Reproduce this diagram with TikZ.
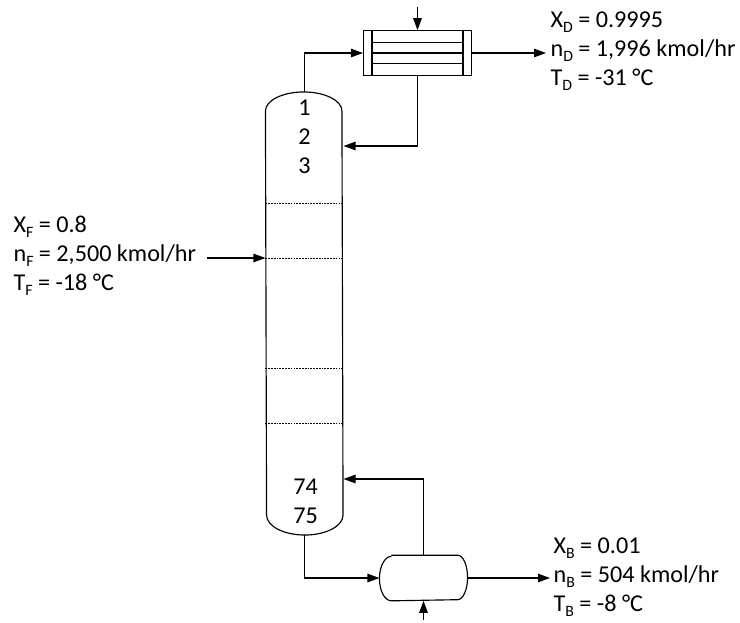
\documentclass[tikz,border=0pt]{standalone}
\usepackage{fontspec}
\setmainfont{Carlito}
\usetikzlibrary{
  positioning,
  calc,
  arrows.meta}
\newcommand{\strm}[1]{\raisebox{-2.8pt}{\fontsize{9pt}{9pt}\selectfont #1}}
\tikzset{
  %% vessel : outline-free box holding the anchors of a unit
  vessel/.style={
    rectangle,
    minimum width=1.53cm,
    minimum height=8.06cm,
    inner sep=0pt
  },
  %% exchanger : the condenser shell
  exchanger/.style={
    rectangle,
    draw=black,
    minimum width=2.16cm,
    minimum height=0.89cm,
    inner sep=0pt
  },
  %% drum : the reboiler body
  drum/.style={
    rectangle,
    minimum width=1.74cm,
    minimum height=0.89cm,
    inner sep=0pt
  },
  %% streamlabel : three line stream data
  streamlabel/.style={
    anchor=west,
    inner sep=0pt,
    align=left,
    font=\fontsize{13.75pt}{16.45pt}\selectfont
  },
  %% traynum : number of a tray
  traynum/.style={
    inner sep=0pt,
    font=\fontsize{13.75pt}{14pt}\selectfont
  },
  %% stream : connector with filled head
  stream/.style={-{Triangle[length=2.4mm,width=1.7mm]}},
  %% tray : section line in the column
  tray/.style={line width=0.35pt, dash pattern=on 1pt off 0.6pt}
}

\begin{document}
\begin{tikzpicture}
  [x=0.02cm,
  y=-0.02cm,
  line width=0.65pt]

  \useasboundingbox (0,0) rectangle (740,622);

  %% Units
  \node (column) [vessel] at (304.25,313) {};
  \node (condenser) [exchanger] at (417.5,53) {};
  \node (reboiler) [drum] at (423.5,578) {};

  %% Column outline
  \draw (column.north west) arc[start angle=180, end angle=360,
    x radius=38.25, y radius=19]
    -- (column.south east) arc[start angle=0, end angle=180,
    x radius=38.25, y radius=20] -- cycle;
  \coordinate (coltop) at ($(column.north)+(0,-19)$);
  \coordinate (colbottom) at ($(column.south)+(0,20)$);

  %% Condenser tubes
  \draw ($(condenser.north west)+(9,0)$) -- ($(condenser.south west)+(9,0)$);
  \draw ($(condenser.north east)+(-9,0)$) -- ($(condenser.south east)+(-9,0)$);
  \draw ($(condenser.west)+(9,-10.5)$) -- ($(condenser.east)+(-9,-10.5)$);
  \draw ($(condenser.west)+(9,0)$) -- ($(condenser.east)+(-9,0)$);
  \draw ($(condenser.west)+(9,10.5)$) -- ($(condenser.east)+(-9,10.5)$);

  %% Reboiler outline
  \draw ($(reboiler.north west)+(12,0)$) -- ($(reboiler.north east)+(-10,0)$)
    arc[start angle=-90, end angle=90, x radius=10, y radius=22.25]
    -- ($(reboiler.south west)+(12,0)$)
    arc[start angle=90, end angle=270, x radius=12, y radius=22.25];

  %% Trays
  \foreach \ypos/\name in {203/a,258/b,368/c,423/d}{
    \coordinate (tray\name) at (304.25,\ypos);
    \draw [tray] (column.west |- tray\name) -- (column.east |- tray\name);
  }

  \node (tray1) [traynum] at (304.5,108) {1};
  \node (tray2) [traynum] at (304.5,137) {2};
  \node (tray3) [traynum] at (304.5,166) {3};
  \node (tray74) [traynum] at (305.5,487) {74};
  \node (tray75) [traynum] at (305.5,516) {75};

  %% Stream data
  \node (feed) [streamlabel] at (13,256) {%
    X\strm{F} = 0.8\\
    n\strm{F} = 2,500 kmol/hr\\
    T\strm{F} = -18 °C};
  \node (distillate) [streamlabel] at (550,51) {%
    X\strm{D} = 0.9995\\
    n\strm{D} = 1,996 kmol/hr\\
    T\strm{D} = -31 °C};
  \node (bottoms) [streamlabel] at (553,577) {%
    X\strm{B} = 0.01\\
    n\strm{B} = 504 kmol/hr\\
    T\strm{B} = -8 °C};

  %% Free ends
  \coordinate (feedstart) at (207,258);
  \coordinate (distend) at (546,53);
  \coordinate (botend) at (550,578);
  \coordinate (refluxin) at (343.5,146);
  \coordinate (boilupin) at (343.5,479);
  \coordinate (coolant) at (417.5,7);
  \coordinate (steam) at (423.5,620);

  %% Connections
  \draw [stream] (coltop) |- (condenser.west);
  \draw [stream] (condenser.south) |- (refluxin);
  \draw [stream] (coolant) -- (condenser.north);
  \draw [stream] (condenser.east) -- (distend);
  \draw [stream] (feedstart) -- (column.west |- feedstart);
  \draw [stream] (colbottom) |- (reboiler.west);
  \draw [stream] (reboiler.north) |- (boilupin);
  \draw [stream] (steam) -- (reboiler.south);
  \draw [stream] (reboiler.east) -- (botend);

\end{tikzpicture}
\end{document}
